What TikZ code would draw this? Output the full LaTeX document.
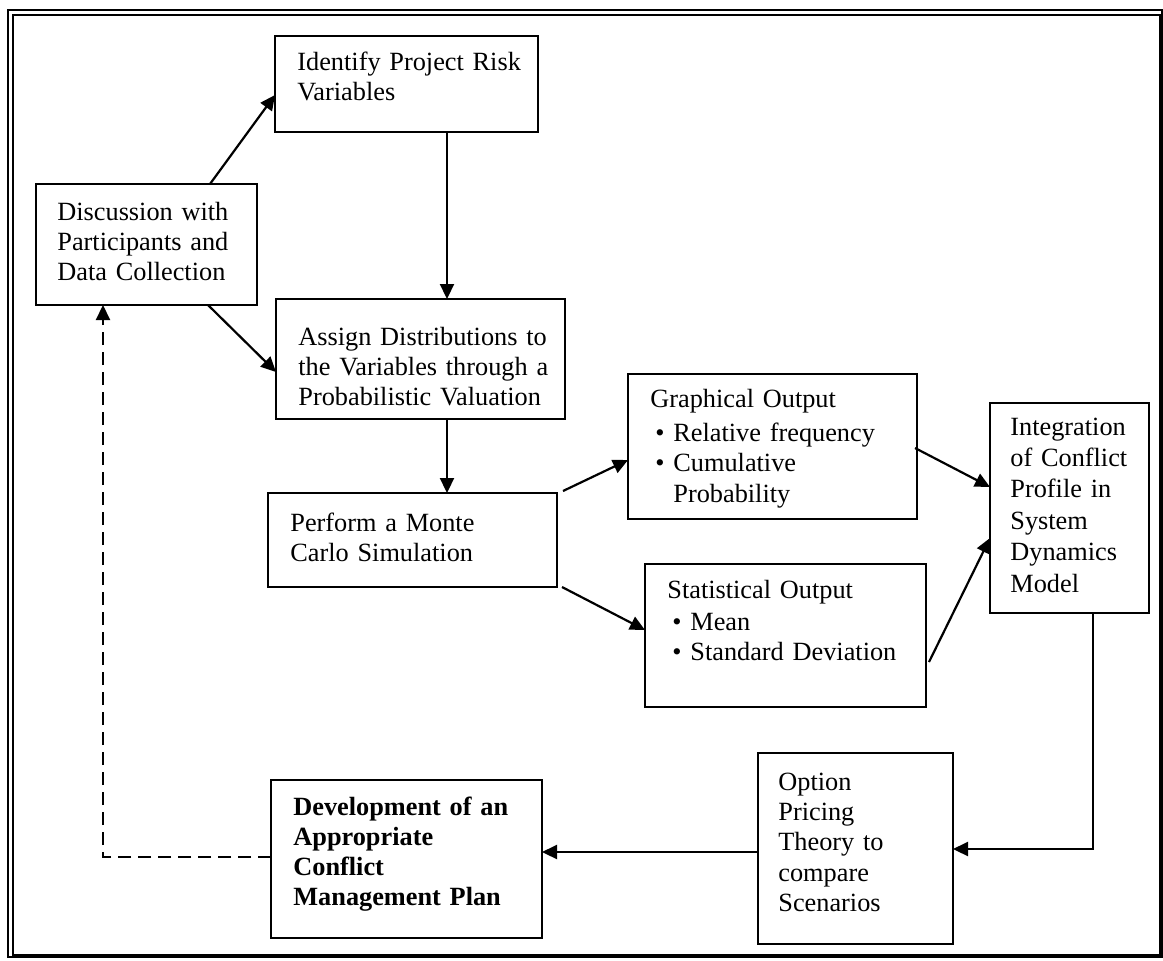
\documentclass[tikz,border=0pt]{standalone}
\usepackage{fontspec}
\setmainfont{Liberation Serif}
\usetikzlibrary{arrows.meta,calc,fit}
\newcommand{\bul}{\hspace*{2.5pt}\makebox[9pt][l]{\textbullet}}
\newcommand{\cont}{\hspace*{11.5pt}}
\begin{document}
\begin{tikzpicture}[x=0.5pt,y=-0.5pt,
  box/.style={draw, line width=1.1pt, inner sep=0pt, outer sep=0pt},
  txt/.style={anchor=base west, inner sep=0pt, align=left, text width=#1,
    font=\fontsize{13.15}{15.2}\selectfont},
  link/.style={line width=1.1pt, -{Triangle[length=7.5pt,width=7pt]}},
  back/.style={line width=1.1pt, dash pattern=on 6.5pt off 3.5pt, -{Triangle[length=7.5pt,width=7pt]}}
]
\useasboundingbox (0,0) rectangle (1163,960);

% page frame
\draw[line width=0.6pt] (8,10) rectangle (1162,957);
\draw[line width=1.1pt] (13,15) rectangle (1160,955);

% box corners
\coordinate (ident1) at (275,36);   \coordinate (ident2) at (538,132);
\coordinate (disc1)  at (36,184);   \coordinate (disc2)  at (257,305);
\coordinate (assign1) at (276,299); \coordinate (assign2) at (565,419);
\coordinate (monte1) at (268,493);  \coordinate (monte2) at (557,587);
\coordinate (graph1) at (628,374);  \coordinate (graph2) at (917,519);
\coordinate (stat1)  at (645,564);  \coordinate (stat2)  at (926,707);
\coordinate (integ1) at (990,403);  \coordinate (integ2) at (1149,613);
\coordinate (option1) at (758,753); \coordinate (option2) at (953,944);
\coordinate (devel1) at (271,780);  \coordinate (devel2) at (542,938);

% boxes
\node[box, fit=(ident1)(ident2)] (ident) {};
\node[box, fit=(disc1)(disc2)] (disc) {};
\node[box, fit=(assign1)(assign2)] (assign) {};
\node[box, fit=(monte1)(monte2)] (monte) {};
\node[box, fit=(graph1)(graph2)] (graph) {};
\node[box, fit=(stat1)(stat2)] (stat) {};
\node[box, fit=(integ1)(integ2)] (integ) {};
\node[box, fit=(option1)(option2)] (option) {};
\node[box, fit=(devel1)(devel2)] (devel) {};

% box texts
\node[txt=130pt] (ident-t) at (297,70) {Identify Project Risk\\Variables};
\node[txt=110pt] (disc-t) at (57,220) {Discussion with\\Participants and\\Data Collection};
\node[txt=140pt] (assign-t) at (298,345) {Assign Distributions to\\the Variables through a\\Probabilistic Valuation};
\node[txt=140pt] (monte-t) at (290,531) {Perform a Monte\\Carlo Simulation};
\node[txt=140pt] (graph-t) at (650,407) {Graphical Output\\[2pt]\bul Relative frequency\\\bul Cumulative\\\cont Probability};
\node[txt=140pt] (stat-t) at (667,598) {Statistical Output\\[1pt]\bul Mean\\\bul Standard Deviation};
\node[txt=75pt, font=\fontsize{13.15}{15.7}\selectfont] (integ-t) at (1010,435) {Integration\\of Conflict\\Profile in\\System\\Dynamics\\Model};
\node[txt=90pt] (option-t) at (778,790) {Option\\Pricing\\Theory to\\compare\\Scenarios};
\node[txt=130pt, font=\fontsize{13.15}{15}\selectfont\bfseries] (devel-t) at (293,815) {Development of an\\Appropriate\\Conflict\\Management Plan};

% connectors
\draw[link] ($(disc.north west)+(174,0)$) -- ($(ident.north west)+(0,59)$);
\draw[link] ($(disc.south west)+(172,0)$) -- ($(assign.north west)+(0,73)$);
\draw[link] ($(ident.south west)+(172,0)$) -- ($(assign.north west)+(171,0)$);
\draw[link] ($(assign.south west)+(171,0)$) -- ($(monte.north west)+(179,0)$);
\draw[link] ($(monte.north east)+(6,-2)$) -- ($(graph.north west)+(0,86)$);
\draw[link] ($(monte.south east)+(5,0)$) -- ($(stat.north west)+(0,66)$);
\draw[link] ($(graph.north east)+(-2,74)$) -- ($(integ.north west)+(0,84)$);
\draw[link] ($(stat.north east)+(3,98)$) -- ($(integ.north west)+(0,135)$);
\draw[link] ($(integ.south west)+(103,0)$) |- ($(option.north east)+(0,96)$);
\draw[link] ($(option.north west)+(0,99)$) -- ($(devel.north east)+(0,72)$);
\draw[back] ($(devel.north west)+(0,77)$) -| ($(disc.south west)+(67,0)$);
\end{tikzpicture}
\end{document}
